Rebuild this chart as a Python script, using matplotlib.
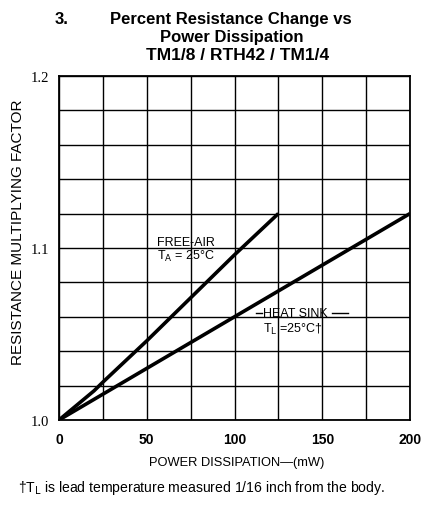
import matplotlib.pyplot as plt

# power dissipation (mW) vs resistance multiplying factor
free_air_mw = [0, 20, 25, 50, 75, 100, 125]
free_air_factor = [1.0, 1.017, 1.022, 1.046, 1.071, 1.096, 1.12]

heat_sink_mw = [0, 50, 100, 150, 200]
heat_sink_factor = [1.0, 1.03, 1.06, 1.09, 1.12]

x_ticks = [0, 50, 100, 150, 200]
y_ticks = [1.0, 1.1, 1.2]

plt.rcParams['font.family'] = ['Liberation Sans', 'DejaVu Sans']

fig = plt.figure(figsize=(4.22, 5.06), dpi=100)
ax = fig.add_axes([0.1398, 0.168, 0.8318, 0.680])

ax.plot(free_air_mw, free_air_factor, color='black', lw=2.6, solid_capstyle='butt')
ax.plot(heat_sink_mw, heat_sink_factor, color='black', lw=2.6, solid_capstyle='butt')

ax.set_xlim(0, 200)
ax.set_ylim(1.0, 1.2)

# grid every 25 mW and 0.02
ax.set_xticks(x_ticks)
ax.set_xticklabels([str(v) for v in x_ticks], fontsize=10, fontweight='bold')
ax.set_yticks(y_ticks)
ax.set_yticklabels(['1.0', '1.1', '1.2'], fontsize=10.5, family='Liberation Serif')
ax.set_xticks([25, 75, 125, 175], minor=True)
ax.set_yticks([1.0 + 0.02 * i for i in range(11) if i not in (0, 5, 10)], minor=True)
ax.grid(which='both', color='black', lw=1.0)
ax.tick_params(which='both', length=0)
ax.tick_params(axis='x', pad=9)
ax.tick_params(axis='y', pad=7)
for s in ax.spines.values():
    s.set_linewidth(1.3)

ax.text(56, 1.1035, 'FREE-AIR', fontsize=9, va='center', ha='left')
ax.text(56, 1.0955, r'T$_{\mathrm{A}}$ = 25°C', fontsize=9, va='center', ha='left')
ax.text(116, 1.062, 'HEAT SINK', fontsize=9, va='center', ha='left')
ax.plot([155.5, 164.5], [1.062, 1.062], color='black', lw=1)
ax.plot([112, 115.5], [1.062, 1.062], color='black', lw=1)
ax.text(116, 1.053, r'T$_{\mathrm{L}}$ =25°C†', fontsize=9, va='center', ha='left')

fig.text(0.13, 1 - 24 / 506, '3.', fontsize=12, fontweight='bold', ha='left', va='baseline')
fig.text(0.547, 1 - 24 / 506, 'Percent Resistance Change vs', fontsize=12,
         fontweight='bold', ha='center', va='baseline')
fig.text(0.55, 1 - 42 / 506, 'Power Dissipation', fontsize=12,
         fontweight='bold', ha='center', va='baseline')
fig.text(0.562, 1 - 60 / 506, 'TM1/8 / RTH42 / TM1/4', fontsize=12.5,
         fontweight='bold', ha='center', va='baseline')

fig.text(0.562, 0.085, 'POWER DISSIPATION—(mW)', fontsize=9.3, ha='center', va='center')
fig.text(0.043, 1 - 232 / 506, 'RESISTANCE MULTIPLYING FACTOR', fontsize=11,
         rotation=90, ha='center', va='center')
fig.text(0.043, 0.035, '†T$_{\\mathrm{L}}$ is lead temperature measured 1/16 inch from the body.',
         fontsize=10.1, ha='left', va='center')

fig.savefig('out.png', dpi=100)
